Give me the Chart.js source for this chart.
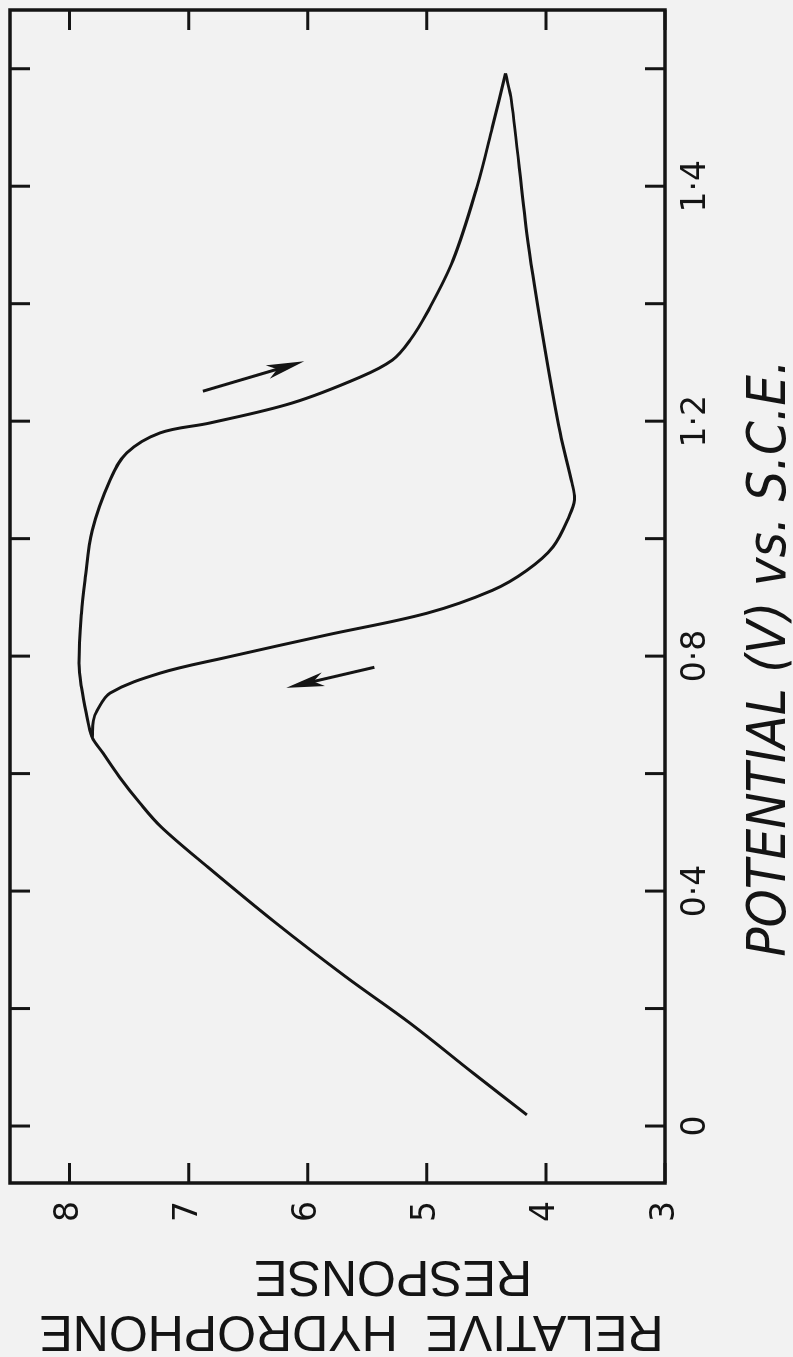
<!DOCTYPE html>
<html>
<head>
<meta charset="utf-8">
<script src="https://cdn.jsdelivr.net/npm/chart.js@4.4.1/dist/chart.umd.min.js"></script>
<style>
  html, body { margin: 0; padding: 0; background: #f2f2f2; overflow: hidden; }
  body { width: 793px; height: 1357px; position: relative; }
  /* the figure is printed sideways, so draw it landscape and turn it */
  #wrap {
    position: absolute; left: 0; top: 0;
    width: 1357px; height: 793px;
    transform-origin: 0 0;
    transform: translate(0, 1357px) rotate(-90deg);
  }
</style>
</head>
<body>
<div id="wrap"><canvas id="loopChart" width="1357" height="793"></canvas></div>
<script>
// Forward sweep (0 V -> turning point)
const forwardPotential = [0.019, 0.090, 0.175, 0.254, 0.346, 0.441, 0.509, 0.550, 0.594, 0.635, 0.662, 0.703, 0.747, 0.788, 0.873, 0.929, 1.014, 1.100, 1.146, 1.180, 1.197, 1.231, 1.275, 1.304, 1.338, 1.384, 1.474, 1.598, 1.700, 1.792];
const forwardResponse  = [4.16, 4.61, 5.14, 5.68, 6.27, 6.84, 7.23, 7.41, 7.58, 7.72, 7.81, 7.86, 7.90, 7.92, 7.90, 7.87, 7.81, 7.66, 7.52, 7.24, 6.82, 6.13, 5.56, 5.29, 5.14, 5.00, 4.78, 4.58, 4.45, 4.34];

// Reverse sweep (turning point -> back onto the forward trace)
const reversePotential = [1.792, 1.746, 1.520, 1.350, 1.180, 1.094, 1.066, 1.040, 0.986, 0.946, 0.912, 0.873, 0.836, 0.798, 0.771, 0.737, 0.707, 0.690, 0.662];
const reverseResponse  = [4.34, 4.29, 4.16, 4.03, 3.88, 3.78, 3.76, 3.80, 3.94, 4.16, 4.45, 5.00, 5.84, 6.68, 7.24, 7.66, 7.77, 7.80, 7.81];

// Sweep direction arrows: [tail potential, tail response, tip potential, tip response]
const forwardArrow = [1.251, 6.88, 1.302, 6.03];
const reverseArrow = [0.781, 5.44, 0.746, 6.18];

// Axes
const potentialTickMarks = [0, 0.2, 0.4, 0.6, 0.8, 1.0, 1.2, 1.4, 1.6, 1.8];
const potentialTicks = [0, 0.4, 0.8, 1.2, 1.6];
const potentialLabels = ['0', '0·4', '0·8', '1·2', '1·4'];
const responseTicks = [3, 4, 5, 6, 7, 8];

const ink = '#141414';

function toPoints(xs, ys) {
    return xs.map((v, i) => ({ x: v, y: ys[i] }));
}

const frame = {
    id: 'frame',
    afterDatasetsDraw(chart) {
        const { ctx, chartArea: a, scales: { x, y } } = chart;
        ctx.save();
        ctx.strokeStyle = ink;
        ctx.fillStyle = ink;
        ctx.lineWidth = 3.5;
        ctx.strokeRect(a.left, a.top, a.right - a.left, a.bottom - a.top);

        // inward ticks on all four sides
        ctx.lineWidth = 3;
        ctx.beginPath();
        potentialTickMarks.forEach(v => {
            const px = x.getPixelForValue(v);
            ctx.moveTo(px, a.bottom); ctx.lineTo(px, a.bottom - 20);
            ctx.moveTo(px, a.top); ctx.lineTo(px, a.top + 20);
        });
        responseTicks.forEach(v => {
            const py = y.getPixelForValue(v);
            ctx.moveTo(a.left, py); ctx.lineTo(a.left + 20, py);
            ctx.moveTo(a.right, py); ctx.lineTo(a.right - 20, py);
        });
        ctx.stroke();

        // arrows
        [forwardArrow, reverseArrow].forEach(arr => {
            const x0 = x.getPixelForValue(arr[0]), y0 = y.getPixelForValue(arr[1]);
            const x1 = x.getPixelForValue(arr[2]), y1 = y.getPixelForValue(arr[3]);
            const ang = Math.atan2(y1 - y0, x1 - x0);
            const c = Math.cos(ang), s = Math.sin(ang);
            ctx.lineWidth = 3;
            ctx.beginPath();
            ctx.moveTo(x0, y0);
            ctx.lineTo(x1 - 20 * c, y1 - 20 * s);
            ctx.stroke();
            ctx.beginPath();
            ctx.moveTo(x1, y1);
            ctx.lineTo(x1 - 38 * c - 7 * s, y1 - 38 * s + 7 * c);
            ctx.lineTo(x1 - 28 * c, y1 - 28 * s);
            ctx.lineTo(x1 - 38 * c + 7 * s, y1 - 38 * s - 7 * c);
            ctx.closePath();
            ctx.fill();
        });
        ctx.restore();
    }
};

new Chart(document.getElementById('loopChart'), {
    type: 'scatter',
    data: {
        datasets: [{
            label: 'Forward',
            data: toPoints(forwardPotential, forwardResponse),
            showLine: true,
            borderColor: ink,
            borderWidth: 3,
            pointRadius: 0,
            tension: 0.35
        }, {
            label: 'Reverse',
            data: toPoints(reversePotential, reverseResponse),
            showLine: true,
            borderColor: ink,
            borderWidth: 3,
            pointRadius: 0,
            tension: 0.35
        }]
    },
    options: {
        responsive: false,
        animation: false,
        devicePixelRatio: 1,
        layout: {
            autoPadding: false,
            padding: { top: 10, right: 10, left: 0, bottom: 0 }
        },
        scales: {
            x: {
                type: 'linear',
                min: -0.097,
                max: 1.9,
                grid: { display: false, drawTicks: false },
                border: { display: false },
                afterFit: scale => {
                    scale.height = 128;
                    scale.paddingLeft = 0;
                    scale.paddingRight = 0;
                },
                afterBuildTicks: scale => { scale.ticks = potentialTicks.map(v => ({ value: v })); },
                ticks: {
                    padding: 12,
                    color: ink,
                    font: { family: 'DejaVu Sans', size: 33 },
                    callback: (value, index) => potentialLabels[index]
                },
                title: {
                    display: true,
                    text: 'POTENTIAL (V) vs. S.C.E.        ',
                    color: ink,
                    padding: { top: 0, bottom: 0 },
                    font: { family: '"DejaVu Sans Condensed", "DejaVu Sans", sans-serif', style: 'italic', size: 54, lineHeight: 0.8 }
                }
            },
            y: {
                type: 'linear',
                min: 3,
                max: 8.5,
                grid: { display: false, drawTicks: false },
                border: { display: false },
                afterFit: scale => {
                    scale.width = 174;
                    scale.paddingTop = 0;
                    scale.paddingBottom = 0;
                },
                afterBuildTicks: scale => { scale.ticks = responseTicks.map(v => ({ value: v })); },
                ticks: {
                    padding: 18,
                    color: ink,
                    font: { family: 'DejaVu Sans', size: 33 }
                },
                title: {
                    display: true,
                    text: ['RELATIVE  HYDROPHONE  ', 'RESPONSE        '],
                    color: ink,
                    padding: { top: 0, bottom: 0 },
                    font: { family: '"Liberation Sans", sans-serif', size: 50, lineHeight: 1.1 }
                }
            }
        },
        plugins: {
            legend: { display: false },
            tooltip: { enabled: false }
        }
    },
    plugins: [frame]
});
</script>
</body>
</html>
